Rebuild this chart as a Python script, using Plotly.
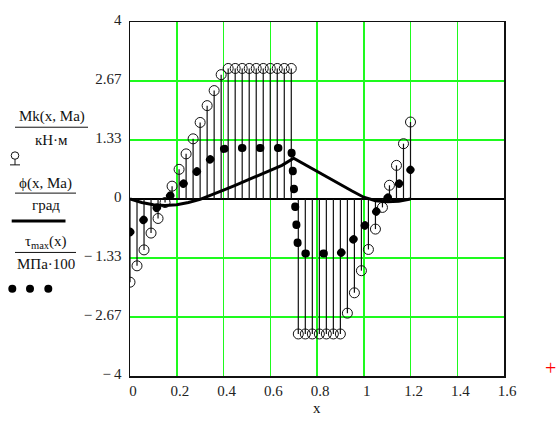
import plotly.graph_objects as go

# ---------------- data ----------------
x_grid = [0.00, 0.03, 0.06, 0.09, 0.12, 0.15, 0.18, 0.21, 0.24, 0.27,
          0.30, 0.33, 0.36, 0.39, 0.42, 0.45, 0.48, 0.51, 0.54, 0.57,
          0.60, 0.63, 0.66, 0.69, 0.72, 0.75, 0.78, 0.81, 0.84, 0.87,
          0.90, 0.93, 0.96, 0.99, 1.02, 1.05, 1.08, 1.11, 1.14, 1.17, 1.20]

mk_vals = [-1.88, -1.51, -1.15, -0.77, -0.44, -0.08, 0.29, 0.67, 1.02, 1.36,
           1.73, 2.11, 2.45, 2.81, 2.95, 2.95, 2.95, 2.95, 2.95, 2.95,
           2.95, 2.95, 2.95, 2.95, -3.05, -3.05, -3.05, -3.05, -3.05, -3.05,
           -3.05, -2.58, -2.12, -1.62, -1.14, -0.68, -0.19, 0.31, 0.76, 1.25, 1.74]

tau_vals = [-0.75, -0.61, -0.47, -0.32, -0.17, -0.03, 0.12, 0.27, 0.41, 0.55,
            0.69, 0.84, 0.98, 1.12, 1.15, 1.15, 1.15, 1.15, 1.15, 1.15,
            1.15, 1.15, 1.15, 1.15, -1.23, -1.23, -1.23, -1.23, -1.23, -1.23,
            -1.23, -1.08, -0.88, -0.72, -0.53, -0.32, -0.13, 0.07, 0.27, 0.47, 0.66]

phi_x = [0.00, 0.05, 0.10, 0.15, 0.20, 0.25, 0.30, 0.35, 0.40, 0.45, 0.50, 0.55, 0.60,
         0.65, 0.70, 0.75, 0.80, 0.85, 0.90, 0.95, 1.00, 1.05, 1.10, 1.15, 1.20]
phi_vals = [0.00, -0.08, -0.13, -0.145, -0.13, -0.08, -0.01, 0.09, 0.20, 0.31, 0.42, 0.53, 0.64,
            0.76, 0.92, 0.77, 0.62, 0.48, 0.33, 0.18, 0.04, -0.04, -0.06, -0.05, 0.00]

x_ticks = [0, 0.2, 0.4, 0.6, 0.8, 1.0, 1.2, 1.4, 1.6]
x_ticktext = ["0", "0.2", "0.4", "0.6", "0.8", "1", "1.2", "1.4", "1.6"]
y_ticks = [-4, -8 / 3, -4 / 3, 0, 4 / 3, 8 / 3, 4]
y_ticktext = ["−\u20094", "−\u20092.67", "−\u20091.33", "0", "1.33", "2.67", "4"]

# ---------------- layout geometry (window pixels) ----------------
W, H = 558, 421
L, R, T, B = 130, 504, 15, 376   # plot area


def px(xp):
    return (xp - L) / (R - L)


def py(yp):
    return (B - yp) / (B - T)


SERIF = "Liberation Serif"
GRID = "rgb(30,250,30)"

fig = go.Figure()

# stems of Mk (built from the data)
stem_x, stem_y = [], []
for xv, yv in zip(x_grid, mk_vals):
    stem_x += [xv, xv, None]
    stem_y += [0, yv, None]
fig.add_trace(go.Scatter(x=stem_x, y=stem_y, mode="lines",
                         line=dict(color="#111", width=1.2), hoverinfo="skip"))
fig.add_trace(go.Scatter(x=x_grid, y=mk_vals, mode="markers",
                         marker=dict(symbol="circle-open", size=10, color="#111",
                                     line=dict(color="#111", width=1))))
# phi
fig.add_trace(go.Scatter(x=phi_x, y=phi_vals, mode="lines",
                         line=dict(color="#000", width=3)))
# tau (thick dotted line)
fig.add_trace(go.Scatter(x=x_grid, y=tau_vals, mode="lines",
                         line=dict(color="#000", width=8, dash="0.5px,17.5px")))

fig.update_xaxes(range=[0, 1.6], tickvals=x_ticks, ticktext=x_ticktext,
                 showgrid=True, gridcolor=GRID, gridwidth=1.5,
                 showline=True, mirror=True, linecolor="#111", linewidth=1.5,
                 zeroline=False, ticks="", ticklabelshift=3,
                 tickfont=dict(family=SERIF, size=15, color="#222"))
fig.update_yaxes(range=[-4, 4], tickvals=y_ticks, ticktext=y_ticktext,
                 showgrid=True, gridcolor=GRID, gridwidth=1.5,
                 showline=True, mirror=True, linecolor="#111", linewidth=1.5,
                 zeroline=True, zerolinecolor="#000", zerolinewidth=1.5,
                 ticks="", ticklabelshift=-2, ticklabelstandoff=4,
                 tickfont=dict(family=SERIF, size=15, color="#222"))

anns = []


def txt(s, xp, yp, size=15, color="#111", xanchor="center"):
    anns.append(dict(text=s, x=px(xp), y=py(yp), xref="paper", yref="paper",
                     showarrow=False, xanchor=xanchor, yanchor="middle",
                     font=dict(family=SERIF, size=size, color=color)))


txt("Mk(x, Ma)", 51.7, 111.5)
txt("кН·м", 51.7, 135)
txt("ϕ(x, Ma)", 45.8, 180)
txt("град", 45.8, 201.5)
txt("τ<sub>max</sub>(x)", 46, 239)
txt("МПа·100", 46, 261.5)
txt("x", 317, 409, size=15)
txt("+", 550, 368, size=20, color="red")

shapes = []


def hline(x0, x1, yp, width=1, color="#111"):
    shapes.append(dict(type="line", xref="paper", yref="paper",
                       x0=px(x0), x1=px(x1), y0=py(yp), y1=py(yp),
                       line=dict(color=color, width=width)))


def vline(xp, y0, y1, width=1, color="#111"):
    shapes.append(dict(type="line", xref="paper", yref="paper",
                       x0=px(xp), x1=px(xp), y0=py(y0), y1=py(y1),
                       line=dict(color=color, width=width)))


def circ(cx, cy, r, fill=None, width=1):
    shapes.append(dict(type="circle", xref="paper", yref="paper",
                       x0=px(cx - r), x1=px(cx + r), y0=py(cy + r), y1=py(cy - r),
                       line=dict(color="#111", width=width),
                       fillcolor=fill if fill else "rgba(0,0,0,0)"))


hline(15, 88, 122.3)
circ(15, 151.2, 3.8)
vline(15, 155, 160.7)
hline(10, 20, 160.7)
hline(15, 76, 189.5)
hline(11.7, 65.5, 218, width=3, color="#000")
hline(15, 76, 250)
for cx in (12.3, 30, 48.3):
    circ(cx, 287, 4, fill="#000", width=0)

fig.update_layout(width=W, height=H, showlegend=False,
                  margin=dict(l=L, r=W - R, t=T, b=H - B),
                  paper_bgcolor="white", plot_bgcolor="white",
                  annotations=anns, shapes=shapes)

post = """
document.body.style.margin = '0';
document.body.style.overflow = 'hidden';
var gd = document.getElementById('{plot_id}');
function fixCaps(){
  gd.querySelectorAll('path.js-line').forEach(function(p){
    var d = p.style.strokeDasharray;
    if (d && d !== 'none') { p.style.strokeLinecap = 'round'; }
  });
}
fixCaps();
gd.on('plotly_afterplot', fixCaps);
"""
fig.write_html("out.html", post_script=post,
               config={"displayModeBar": False, "staticPlot": True})
